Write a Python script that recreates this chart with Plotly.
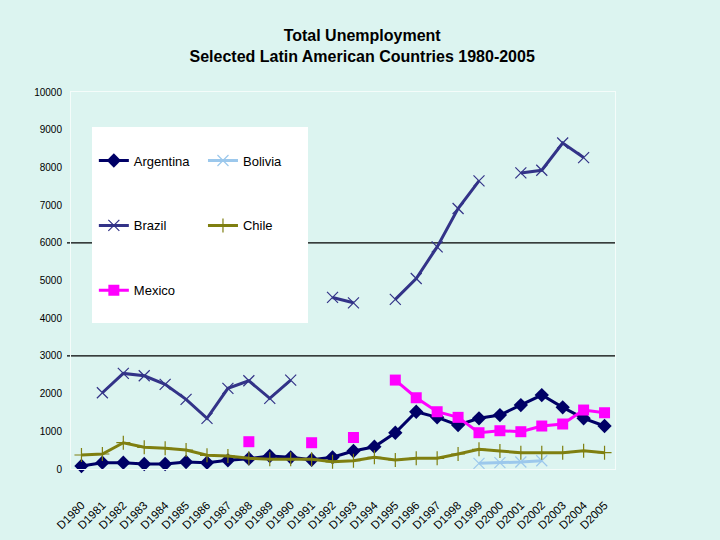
import plotly.graph_objects as go

years = ["D%d" % y for y in range(1980, 2006)]

argentina = [80, 167, 167, 133, 133, 186, 167, 231, 273, 345, 310, 246, 310,
             477, 591, 962, 1519, 1370, 1166, 1344, 1431, 1696, 1961, 1635, 1344, 1140]
bolivia = [None] * 19 + [151, 167, 186, 220, None, None, None]
brazil = [None, 2022, 2536, 2473, 2245, 1847, 1344, 2139, 2340, 1874, 2359, None, 4551,
          4408, None, 4498, 5054, 5892, 6910, 7641, None, 7853, 7925, 8648, 8261, None]
chile = [371, 398, 697, 575, 549, 504, 363, 345, 284, 257, 257, 257, 191,
         220, 310, 239, 284, 284, 398, 522, 477, 432, 432, 432, 485, 432]
mexico = [None] * 8 + [724, None, None, 697, None, 835, None, 2359, 1890, 1519, 1370,
                       962, 1015, 989, 1140, 1193, 1564, 1492]

y_ticks = list(range(0, 10001, 1000))
y_tick_text = [str(v) for v in y_ticks]

BG = "#dcf4f0"
FONT = "Arial, Liberation Sans, sans-serif"

fig = go.Figure()

def add(name, vals, color, symbol, size, legend, group, mline=None):
    marker = dict(symbol=symbol, size=size, color=color)
    if mline is not None:
        marker["line"] = dict(color=mline, width=1.2)
    fig.add_trace(go.Scatter(
        x=years, y=vals, name=name, mode="lines+markers",
        line=dict(color=color, width=3), marker=marker,
        connectgaps=False, cliponaxis=False,
        legend=legend, legendgroup=group))

add("Argentina", argentina, "#000066", "diamond", 11, "legend", "a")
add("Bolivia", bolivia, "#9cc8ec", "x-thin", 11, "legend2", "b", "#9cc8ec")
add("Brazil", brazil, "#333388", "x-thin", 11, "legend", "c", "#333388")
add("Chile", chile, "#7f7f10", "cross-thin", 10, "legend2", "d", "#7f7f10")
add("Mexico", mexico, "#ff00ff", "square", 11, "legend", "e")

shapes = []
for g in [3000, 6000]:
    shapes.append(dict(type="line", xref="paper", yref="y", x0=-0.0074, x1=1,
                       y0=g, y1=g, line=dict(color="black", width=1.2), layer="below"))
shapes.append(dict(type="rect", xref="paper", yref="paper", x0=0.0386, x1=0.4357,
                   y0=0.387, y1=0.907, fillcolor="white", line=dict(width=0),
                   layer="below"))

fig.update_layout(
    width=720, height=540,
    paper_bgcolor=BG, plot_bgcolor=BG,
    margin=dict(l=71, r=105, t=92, b=71, autoexpand=False),
    font=dict(family=FONT, color="black"),
    title=dict(text="<b>Total Unemployment<br>Selected Latin American Countries 1980-2005</b>",
               x=0.503, xanchor="center", y=0.924, yanchor="top",
               font=dict(size=16, family=FONT, color="black")),
    shapes=shapes,
    showlegend=True,
    legend=dict(x=0.042, y=0.858, xanchor="left", yanchor="top", bgcolor="rgba(0,0,0,0)",
                font=dict(size=13, family=FONT), tracegroupgap=45),
    legend2=dict(x=0.2426, y=0.858, xanchor="left", yanchor="top", bgcolor="rgba(0,0,0,0)",
                 font=dict(size=13, family=FONT), tracegroupgap=45),
    xaxis=dict(type="category", categoryorder="array", categoryarray=years,
               range=[-0.5, 25.5], tickangle=-45, showgrid=False, zeroline=False,
               showline=True, mirror=True, linecolor="#f4fcfa", linewidth=1,
               ticks="outside", ticklen=24, tickcolor="rgba(0,0,0,0)",
               automargin=False, tickfont=dict(size=11.5, family=FONT)),
    yaxis=dict(range=[0, 10000], tickmode="array", tickvals=y_ticks, ticktext=y_tick_text,
               showgrid=False, zeroline=False,
               showline=True, mirror=True, linecolor="#f4fcfa", linewidth=1,
               ticks="", ticklabelstandoff=6, automargin=False,
               tickfont=dict(size=10, family=FONT)),
)

fig.write_html("out.html", config={"displayModeBar": False},
               post_script="document.body.style.margin='0px';"
                           "document.body.style.background='%s';" % BG)
